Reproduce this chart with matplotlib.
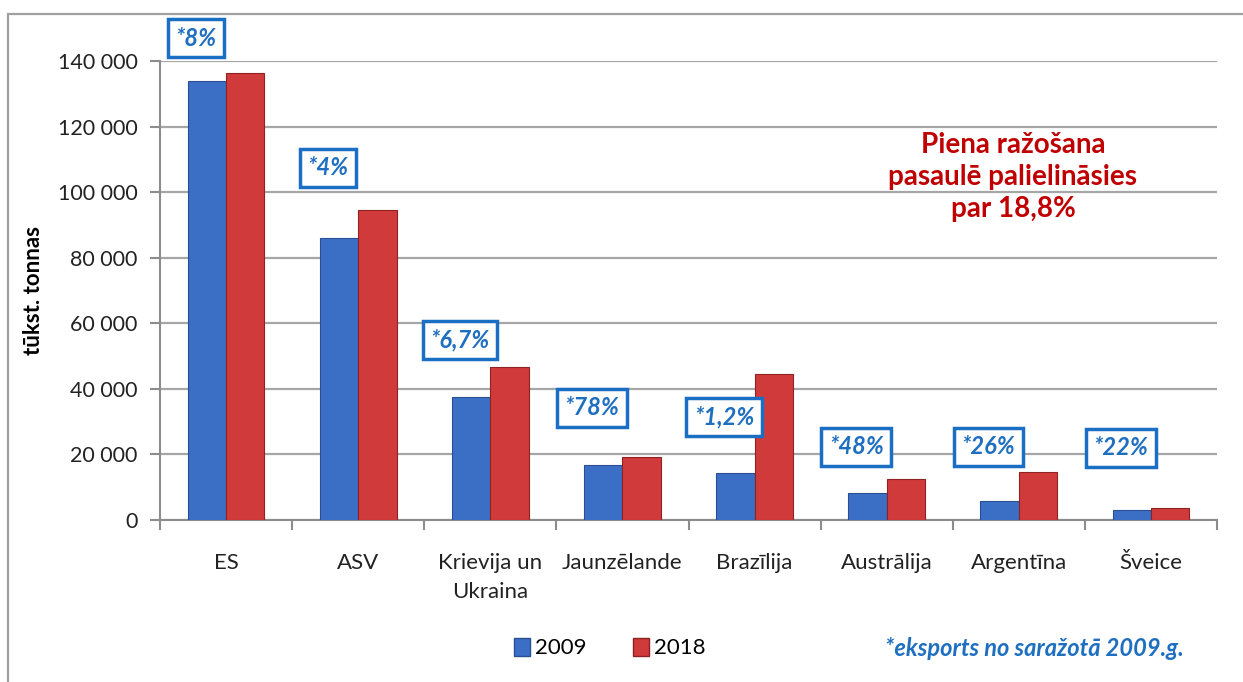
import numpy as np
import matplotlib
matplotlib.use('Agg')
import matplotlib.pyplot as plt
from matplotlib.patches import Rectangle
from matplotlib.ticker import FuncFormatter

plt.rcParams['font.family'] = ['Lato', 'DejaVu Sans']

countries = ['ES', 'ASV', 'Krievija un\nUkraina', 'Jaunzēlande', 'Brazīlija',
             'Austrālija', 'Argentīna', 'Šveice']
prod_2009 = [134000, 86000, 37500, 16800, 14300, 8200, 5800, 3000]
prod_2018 = [136300, 94500, 46700, 19200, 44500, 12500, 14600, 3600]
export_share = ['*8%', '*4%', '*6,7%', '*78%', '*1,2%', '*48%', '*26%', '*22%']
label_y = [147000, 107400, 54900, 34200, 31400, 22300, 22300, 22000]

blue = '#3b6fc6'
red = '#d13a3a'
note_blue = '#1f6fc1'

fig = plt.figure(figsize=(12.43, 6.82), dpi=100)
ax = fig.add_axes([160 / 1243, 1 - 520 / 682, 1057 / 1243, 459 / 682])

x = np.arange(len(countries))
w = 0.29
ax.bar(x - w / 2, prod_2009, w, color=blue, edgecolor='#2a4f90', linewidth=0.8, zorder=3)
ax.bar(x + w / 2, prod_2018, w, color=red, edgecolor='#8e2222', linewidth=0.8, zorder=3)

ax.set_xlim(-0.5, len(countries) - 0.5)
ax.set_ylim(0, 140000)
ax.set_yticks(np.arange(0, 140001, 20000))
ax.yaxis.set_major_formatter(FuncFormatter(lambda v, p: f'{int(v):,}'.replace(',', ' ')))
ax.grid(axis='y', color='#a6a6a6', linewidth=1.6, zorder=0)
ax.set_axisbelow(True)

ax.set_xticks(x)
ax.set_xticklabels(countries, fontsize=16, color='#222222', linespacing=1.55)
ax.set_xticks(np.arange(-0.5, len(countries)), minor=True)
ax.tick_params(axis='x', which='major', length=0, pad=24)
ax.tick_params(axis='x', which='minor', length=7, color='#8c8c8c', width=1.5)
ax.tick_params(axis='y', labelsize=15.5, length=7, color='#8c8c8c', width=1.5, pad=9,
               labelcolor='#222222')

for s in ['top', 'right']:
    ax.spines[s].set_visible(False)
for s in ['left', 'bottom']:
    ax.spines[s].set_color('#8c8c8c')
    ax.spines[s].set_linewidth(1.5)

ax.set_ylabel('tūkst. tonnas', fontsize=16, fontweight='bold', labelpad=10)

for xi, txt, yv in zip(x, export_share, label_y):
    ax.text(xi - 0.23, yv, txt, ha='center', va='center', fontsize=17, color=note_blue,
            fontweight='bold', fontstyle='italic', clip_on=False, zorder=5,
            bbox=dict(boxstyle='square,pad=0.32', facecolor='white', edgecolor='#1a6fc4',
                      linewidth=2.5))

fig.text(1013 / 1243, 1 - 177 / 682, 'Piena ražošana\npasaulē palielināsies\npar 18,8%',
         ha='center', va='center', fontsize=20, fontweight='bold', color='#c00000',
         linespacing=1.27)

handles = [Rectangle((0, 0), 1, 1, facecolor=blue, edgecolor='#2a4f90'),
           Rectangle((0, 0), 1, 1, facecolor=red, edgecolor='#8e2222')]
fig.legend(handles, ['2009', '2018'], loc='center', bbox_to_anchor=(610 / 1243, 1 - 648 / 682),
           ncol=2, frameon=False, fontsize=16, handlelength=0.7, handleheight=0.9,
           handletextpad=0.25, columnspacing=2.1)

fig.text(1034 / 1243, 1 - 648 / 682, '*eksports no saražotā 2009.g.', ha='center', va='center',
         fontsize=17, fontweight='bold', fontstyle='italic', color=note_blue)

frame = Rectangle((8 / 1243, -0.05), 1.1, 1 - 14 / 682 + 0.05, transform=fig.transFigure,
                  fill=False, edgecolor='#a0a0a0', linewidth=1.6)
fig.patches.append(frame)

fig.savefig('out.png', dpi=100)
